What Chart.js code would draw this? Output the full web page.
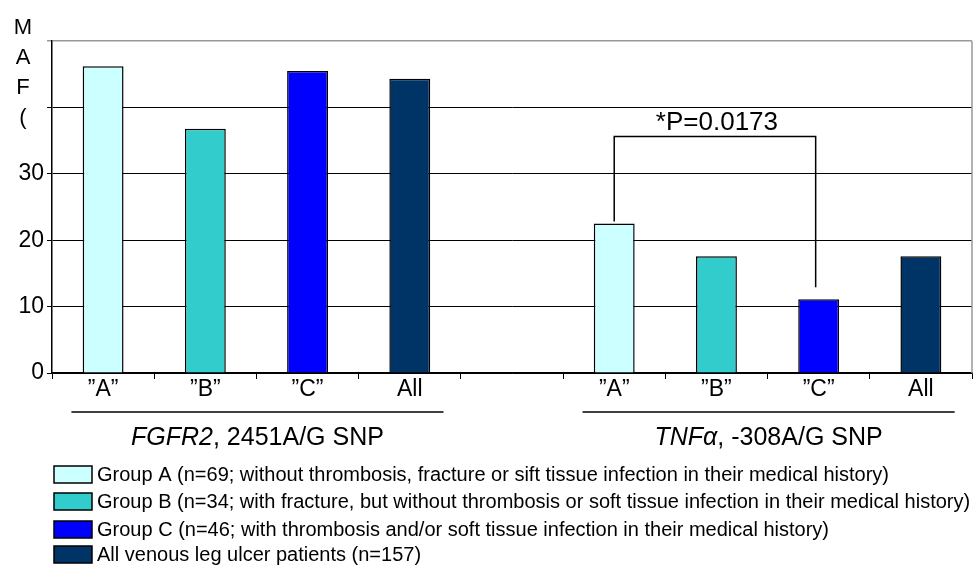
<!DOCTYPE html>
<html lang="en">
<head>
  <meta charset="UTF-8" />
  <title>MAF by group</title>
  <script src="https://cdn.jsdelivr.net/npm/chart.js"></script>
  <style>
    html, body { margin: 0; padding: 0; background: #fff; }
    #wrap { width: 976px; height: 565px; }
  </style>
</head>
<body>
  <div id="wrap"><canvas id="mafChart" width="976" height="565"></canvas></div>

  <script>
    // categories (empty slot separates the two SNPs)
    const categories = ['\u201DA\u201D', '\u201DB\u201D', '\u201DC\u201D', 'All', '', '\u201DA\u201D', '\u201DB\u201D', '\u201DC\u201D', 'All'];
    const groupNames = [
      'Group A (n=69; without thrombosis, fracture or sift tissue infection in their medical history)',
      'Group B (n=34; with fracture, but without thrombosis or soft tissue infection in their medical history)',
      'Group C (n=46; with thrombosis and/or soft tissue infection in their medical history)',
      'All venous leg ulcer patients (n=157)'
    ];
    const groupColors = ['#CCFFFF', '#33CCCC', '#0000FF', '#003366'];
    const fgfr2Values = [46.2, 36.8, 45.5, 44.3];
    const tnfValues = [22.5, 17.6, 11.1, 17.6];
    const yTicks = [0, 10, 20, 30];
    const axisLetters = ['M', 'A', 'F', '('];

    const FONT = '"Liberation Sans", Arial, sans-serif';

    // one dataset per group, values only in that group's slots
    const datasets = groupNames.map((name, g) => {
      const data = categories.map(() => null);
      data[g] = fgfr2Values[g];
      data[5 + g] = tnfValues[g];
      return {
        label: name,
        data: data,
        backgroundColor: groupColors[g],
        borderColor: '#000',
        borderWidth: 1.5,
        grouped: false,
        barPercentage: 0.4,
        categoryPercentage: 1
      };
    });

    const extras = {
      id: 'extras',
      afterDraw(chart) {
        const ctx = chart.ctx;
        const x = chart.scales.x;
        const y = chart.scales.y;
        const area = chart.chartArea;
        ctx.save();

        // plot border right
        ctx.strokeStyle = '#999';
        ctx.lineWidth = 1.5;
        ctx.beginPath();
        ctx.moveTo(area.right, area.top);
        ctx.lineTo(area.right, area.bottom);
        ctx.stroke();

        // significance bracket
        const xa = x.getPixelForValue(5), xc = x.getPixelForValue(7) - 3;
        const yt = y.getPixelForValue(35.6);
        ctx.strokeStyle = '#000';
        ctx.lineWidth = 1.5;
        ctx.beginPath();
        ctx.moveTo(xa, y.getPixelForValue(22.8));
        ctx.lineTo(xa, yt);
        ctx.lineTo(xc, yt);
        ctx.lineTo(xc, y.getPixelForValue(12.9));
        ctx.stroke();
        ctx.fillStyle = '#000';
        ctx.font = '26px ' + FONT;
        ctx.textAlign = 'center';
        ctx.textBaseline = 'middle';
        ctx.fillText('*P=0.0173', (xa + xc) / 2 + 2, yt - 14);

        // y axis title letters
        ctx.font = '22px ' + FONT;
        axisLetters.forEach((ch, i) => ctx.fillText(ch, 23, 28 + i * 30));

        // SNP group lines and labels
        const step = (x.getPixelForValue(1) - x.getPixelForValue(0));
        const groups = [
          { from: 0, to: 3, italic: 'FGFR2', rest: ', 2451A/G SNP' },
          { from: 5, to: 8, italic: 'TNF\u03B1', rest: ', -308A/G SNP' }
        ];
        groups.forEach(gr => {
          const x1 = x.getPixelForValue(gr.from) - step * 0.31;
          const x2 = x.getPixelForValue(gr.to) + step * 0.33;
          ctx.beginPath();
          ctx.moveTo(x1, 412);
          ctx.lineTo(x2, 412);
          ctx.stroke();
          ctx.font = 'italic 25px ' + FONT;
          const w1 = ctx.measureText(gr.italic).width;
          ctx.font = '25px ' + FONT;
          const w2 = ctx.measureText(gr.rest).width;
          const start = (x1 + x2) / 2 - (w1 + w2) / 2;
          ctx.textAlign = 'left';
          ctx.font = 'italic 25px ' + FONT;
          ctx.fillText(gr.italic, start, 438);
          ctx.font = '25px ' + FONT;
          ctx.fillText(gr.rest, start + w1, 438);
          ctx.textAlign = 'center';
        });

        // legend
        const rowsY = [475, 502, 530, 555];
        ctx.font = '20px ' + FONT;
        ctx.textAlign = 'left';
        chart.data.datasets.forEach((ds, i) => {
          ctx.fillStyle = ds.backgroundColor;
          ctx.fillRect(54, rowsY[i] - 9, 38, 17);
          ctx.strokeStyle = '#000';
          ctx.lineWidth = 1.5;
          ctx.strokeRect(54, rowsY[i] - 9, 38, 17);
          ctx.fillStyle = '#000';
          ctx.fillText(ds.label, 97, rowsY[i]);
        });
        ctx.restore();
      }
    };

    new Chart(document.getElementById('mafChart'), {
      type: 'bar',
      data: { labels: categories, datasets: datasets },
      plugins: [extras],
      options: {
        responsive: false,
        animation: false,
        layout: { padding: { top: 41, right: 4, left: 0, bottom: 0 } },
        plugins: { legend: { display: false }, tooltip: { enabled: false } },
        scales: {
          x: {
            afterFit(scale) { scale.height = 192; },
            grid: {
              offset: true,
              drawOnChartArea: false,
              tickLength: 6,
              color: '#000',
              lineWidth: 1
            },
            border: { color: '#000', width: 1.5 },
            ticks: { color: '#000', font: { family: FONT, size: 23 }, padding: -3, maxRotation: 0, autoSkip: false }
          },
          y: {
            min: 0,
            max: 50,
            afterFit(scale) { scale.width = 52; },
            afterBuildTicks(scale) {
              scale.ticks = [0, 10, 20, 30, 40, 50].map(v => ({ value: v }));
            },
            grid: {
              color: ctx => (ctx.tick && ctx.tick.value === 50 ? '#999' : '#000'),
              lineWidth: ctx => (ctx.tick && ctx.tick.value === 50 ? 1.5 : 1),
              tickLength: 5
            },
            border: { color: '#000', width: 1.5 },
            ticks: {
              color: '#000',
              font: { family: FONT, size: 23 },
              padding: 3,
              callback: v => (yTicks.includes(v) ? String(v) : '')
            }
          }
        }
      }
    });
  </script>
</body>
</html>
